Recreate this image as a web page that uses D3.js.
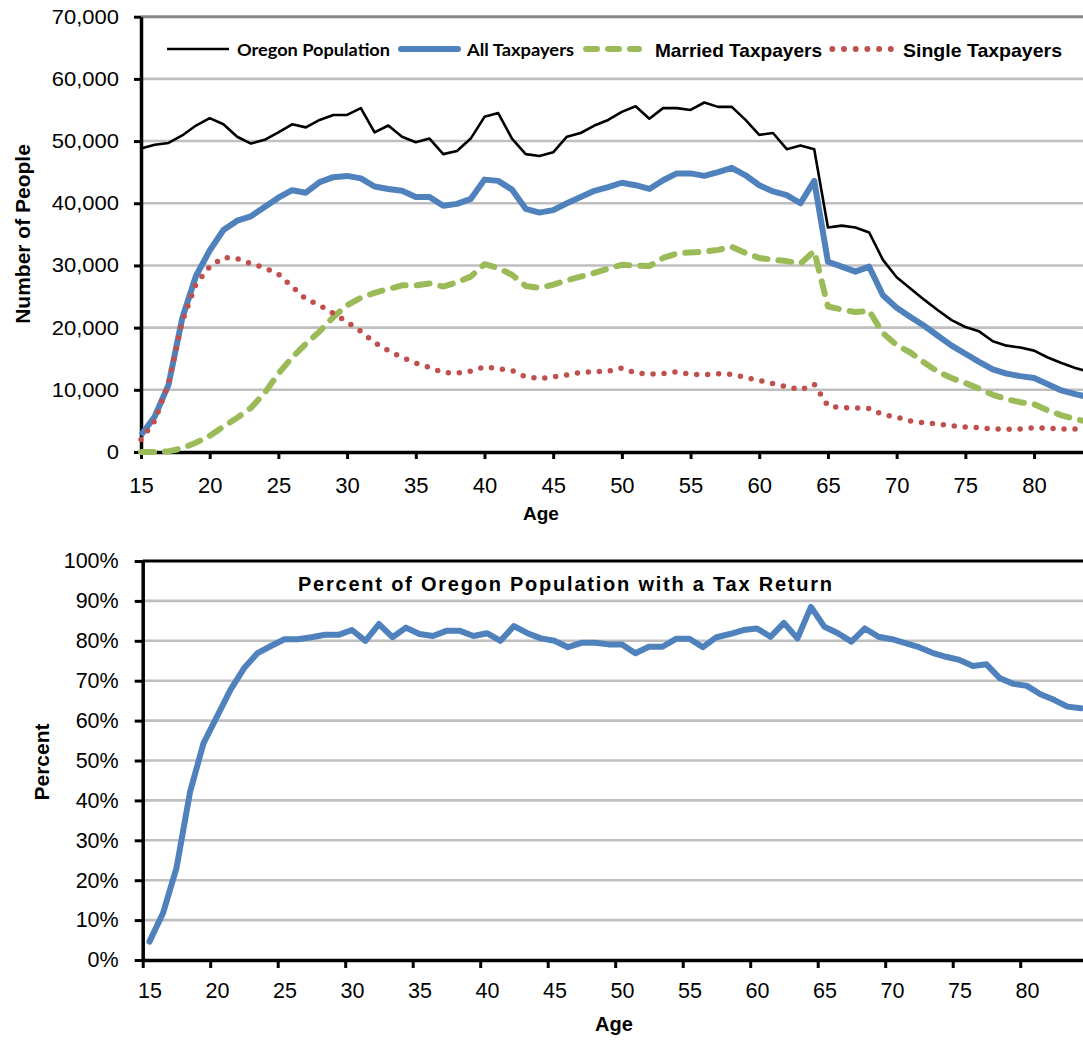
<!DOCTYPE html>
<html><head><meta charset="utf-8">
<script src="https://cdn.jsdelivr.net/npm/d3@7"></script>
<style>
html,body{margin:0;padding:0;background:#fff;}
svg{display:block;}
</style>
</head><body>
<svg id="chart" width="1083" height="1040"></svg>
<script>
// ---------- data ----------
const ages = [15,16,17,18,19,20,21,22,23,24,25,26,27,28,29,30,31,32,33,34,35,36,37,38,39,40,41,42,43,44,45,46,47,48,49,50,51,52,53,54,55,56,57,58,59,60,61,62,63,64,65,66,67,68,69,70,71,72,73,74,75,76,77,78,79,80,81,82,83,84];
const oregonPopulation = [48800,49400,49700,50900,52500,53700,52700,50700,49600,50200,51400,52700,52200,53400,54200,54200,55300,51400,52500,50700,49800,50400,47900,48400,50400,53900,54500,50400,47900,47600,48200,50700,51300,52500,53400,54700,55600,53600,55300,55300,55000,56200,55500,55500,53400,51000,51300,48700,49300,48700,36100,36400,36100,35300,30900,28100,26300,24500,22800,21200,20100,19400,17800,17100,16800,16300,15200,14300,13500,12900];
const allTaxpayers = [2700,5700,10800,21500,28300,32400,35700,37200,37900,39400,40900,42100,41700,43400,44200,44400,44000,42700,42300,42000,41000,41000,39600,39900,40700,43800,43600,42200,39100,38500,38900,40000,41000,42000,42600,43300,42900,42300,43700,44800,44800,44400,45000,45700,44500,42900,41900,41300,40000,43600,30600,29800,29000,29800,25200,23200,21700,20300,18700,17100,15800,14500,13300,12600,12200,11900,10900,9900,9300,8800];
const marriedTaxpayers = [0,0,100,600,1500,2600,4100,5500,7100,9500,12600,15200,17400,19400,21700,23600,24800,25600,26200,26800,26800,27100,26600,27300,28200,30200,29600,28500,26700,26400,26900,27600,28200,28800,29500,30100,30000,29900,31200,31900,32100,32200,32500,33000,32000,31200,30900,30700,30300,32300,23400,22900,22500,22700,19100,17200,16000,14400,12900,11900,11100,10200,9200,8500,8000,7700,6700,5900,5300,4800];
const singleTaxpayers = [2000,5000,11000,21000,27000,29800,31300,31100,30300,29600,28600,26600,24600,23600,22300,20900,19400,17600,16300,15200,14300,13600,12800,12700,13000,13700,13400,13100,12100,11800,12100,12400,12800,12900,13000,13500,12700,12500,12600,12900,12500,12400,12600,12500,12000,11500,11000,10500,10000,10900,7400,7100,7100,7000,6000,5600,5000,4700,4500,4200,4000,3900,3700,3650,3700,3900,3800,3700,3700,3700];
const percentWithReturn = [4.6,11.7,23,42,54.3,61,67.7,73.1,76.9,78.7,80.4,80.4,80.9,81.5,81.5,82.7,80.0,84.2,80.9,83.3,81.7,81.2,82.5,82.5,81.2,81.9,80.0,83.7,81.9,80.6,80.0,78.4,79.5,79.5,79.1,79.1,76.9,78.5,78.5,80.5,80.5,78.4,80.9,81.7,82.7,83.1,81.0,84.5,80.6,88.5,83.5,81.9,79.8,83.1,81.0,80.4,79.4,78.4,77.0,76.0,75.2,73.7,74.1,70.6,69.2,68.7,66.6,65.2,63.5,63.1];
const peopleTicks = [0,10000,20000,30000,40000,50000,60000,70000];
const percentTicks = [0,10,20,30,40,50,60,70,80,90,100];
const ageTickLabels = [15,20,25,30,35,40,45,50,55,60,65,70,75,80];
const ageBoundaryTicks = [14.5,19.5,24.5,29.5,34.5,39.5,44.5,49.5,54.5,59.5,64.5,69.5,74.5,79.5,84.5];
const legendLabels = ["Oregon Population","All Taxpayers","Married Taxpayers","Single Taxpayers"];
const bottomTitle = "Percent of Oregon Population with a Tax Return";

(function draw(){
const svg = d3.select("#chart");
const FONT = "'Liberation Sans', Arial, sans-serif";
const GRID = "#BFBFBF";
const C_BLACK = "#000000", C_BLUE = "#4F81BD", C_GREEN = "#9BBB59", C_RED = "#C0504D";

function stretchText(sel, sx) {
  sel.each(function(){
    const t = d3.select(this);
    const x = +t.attr("x") || 0;
    t.attr("transform", `translate(${x},0) scale(${sx},1) translate(${-x},0)`);
  });
}
function styleAxis(g, size) {
  g.attr("font-family", FONT).attr("font-size", size);
  g.select(".domain").attr("stroke", "#000").attr("stroke-width", 3.5);
  g.selectAll(".tick line").attr("stroke", "#000").attr("stroke-width", 3);
  g.selectAll(".tick text").attr("fill", "#000");
}

// ================= TOP CHART =================
const x1 = d3.scaleLinear().domain([15, 84]).range([141, 1089]);
const y1 = d3.scaleLinear().domain([0, 70000]).range([452, 16.7]);
const topG = svg.append("g");

topG.append("g").selectAll("line").data(peopleTicks.filter(d => d > 0)).join("line")
  .attr("x1", x1(15)).attr("x2", x1(84)).attr("y1", d => y1(d)).attr("y2", d => y1(d))
  .attr("stroke", d => d === 70000 ? "#868686" : GRID).attr("stroke-width", d => d === 70000 ? 3 : 2.6);

const ya1 = topG.append("g").attr("transform", `translate(${x1(15)},0)`)
  .call(d3.axisLeft(y1).tickValues(peopleTicks).tickSize(7).tickSizeOuter(0).tickPadding(15).tickFormat(d3.format(",")));
styleAxis(ya1, 20);
stretchText(ya1.selectAll(".tick text"), 1.1);

const xa1 = topG.append("g").attr("transform", `translate(0,${y1(0)})`)
  .call(d3.axisBottom(x1).tickValues(ageTickLabels).tickSize(7).tickSizeOuter(0).tickPadding(18));
styleAxis(xa1, 22);

const line1 = (vals) => d3.line().x((d, i) => x1(ages[i])).y(d => y1(d))(vals);
topG.append("path").attr("d", line1(oregonPopulation)).attr("fill", "none")
  .attr("stroke", C_BLACK).attr("stroke-width", 2.6).attr("stroke-linejoin", "round");
topG.append("path").attr("d", line1(allTaxpayers)).attr("fill", "none")
  .attr("stroke", C_BLUE).attr("stroke-width", 6).attr("stroke-linejoin", "round");
topG.append("path").attr("d", line1(marriedTaxpayers)).attr("fill", "none")
  .attr("stroke", C_GREEN).attr("stroke-width", 6).attr("stroke-linejoin", "round")
  .attr("stroke-linecap", "round").attr("stroke-dasharray", "13 11");
topG.append("path").attr("d", line1(singleTaxpayers)).attr("fill", "none")
  .attr("stroke", C_RED).attr("stroke-width", 5.5).attr("stroke-linejoin", "round")
  .attr("stroke-linecap", "round").attr("stroke-dasharray", "0 11");

const lg = topG.append("g");
lg.append("line").attr("x1", 167).attr("x2", 229).attr("y1", 49).attr("y2", 49)
  .attr("stroke", C_BLACK).attr("stroke-width", 2.6);
lg.append("text").attr("x", 237).attr("y", 55.5).text(legendLabels[0])
  .attr("font-family", "Lato, 'Open Sans', sans-serif").attr("font-weight", "bold").attr("font-size", 17)
  .attr("textLength", 153).attr("lengthAdjust", "spacingAndGlyphs");
lg.append("line").attr("x1", 401).attr("x2", 458).attr("y1", 49).attr("y2", 49)
  .attr("stroke", C_BLUE).attr("stroke-width", 6).attr("stroke-linecap", "round");
lg.append("text").attr("x", 467).attr("y", 55.5).text(legendLabels[1])
  .attr("font-family", "Lato, 'Open Sans', sans-serif").attr("font-weight", "bold").attr("font-size", 17)
  .attr("textLength", 107).attr("lengthAdjust", "spacingAndGlyphs");
lg.append("line").attr("x1", 586).attr("x2", 639).attr("y1", 49).attr("y2", 49)
  .attr("stroke", C_GREEN).attr("stroke-width", 6).attr("stroke-linecap", "round").attr("stroke-dasharray", "11 11");
lg.append("text").attr("x", 655).attr("y", 56.5).text(legendLabels[2])
  .attr("font-family", FONT).attr("font-weight", "bold").attr("font-size", 18.5)
  .attr("textLength", 167).attr("lengthAdjust", "spacingAndGlyphs");
lg.append("line").attr("x1", 832.3).attr("x2", 891).attr("y1", 49).attr("y2", 49)
  .attr("stroke", C_RED).attr("stroke-width", 6).attr("stroke-linecap", "round").attr("stroke-dasharray", "0 11.7");
lg.append("text").attr("x", 903).attr("y", 56.5).text(legendLabels[3])
  .attr("font-family", FONT).attr("font-weight", "bold").attr("font-size", 18.5)
  .attr("textLength", 159).attr("lengthAdjust", "spacingAndGlyphs");

topG.append("text").attr("transform", "translate(30,234) rotate(-90)").attr("text-anchor", "middle")
  .attr("font-family", FONT).attr("font-weight", "bold").attr("font-size", 21).text("Number of People");
topG.append("text").attr("x", 541).attr("y", 520).attr("text-anchor", "middle")
  .attr("font-family", FONT).attr("font-weight", "bold").attr("font-size", 19).text("Age");

// ================= BOTTOM CHART =================
const x2 = d3.scaleLinear().domain([14.5, 84.5]).range([142.7, 1087.7]);
const y2 = d3.scaleLinear().domain([0, 100]).range([960, 561]);
const bot = svg.append("g");

bot.append("g").selectAll("line").data(percentTicks.filter(d => d > 0)).join("line")
  .attr("x1", x2(14.5)).attr("x2", x2(84.5)).attr("y1", d => y2(d)).attr("y2", d => y2(d))
  .attr("stroke", d => d === 100 ? "#000" : GRID).attr("stroke-width", d => d === 100 ? 3 : 2.6);

const ya2 = bot.append("g").attr("transform", `translate(${x2(14.5)},0)`)
  .call(d3.axisLeft(y2).tickValues(percentTicks).tickSize(8).tickSizeOuter(0).tickPadding(16).tickFormat(d => d + "%"));
styleAxis(ya2, 21.5);

const xa2 = bot.append("g").attr("transform", `translate(0,${y2(0)})`)
  .call(d3.axisBottom(x2).tickValues(ageBoundaryTicks).tickSize(8).tickSizeOuter(0).tickFormat(""));
styleAxis(xa2, 21.5);
const xl2 = bot.append("g").attr("transform", `translate(0,${y2(0)})`)
  .call(d3.axisBottom(x2).tickValues(ageTickLabels).tickSize(0).tickPadding(23));
xl2.select(".domain").remove();
xl2.attr("font-family", FONT).attr("font-size", 21.5);
xl2.selectAll(".tick text").attr("fill", "#000");

bot.append("path").attr("d", d3.line().x((d, i) => x2(ages[i])).y(d => y2(d))(percentWithReturn))
  .attr("fill", "none").attr("stroke", C_BLUE).attr("stroke-width", 6).attr("stroke-linejoin", "round").attr("stroke-linecap", "round");

bot.append("text").attr("x", 565).attr("y", 591).attr("text-anchor", "middle")
  .attr("font-family", FONT).attr("font-weight", "bold").attr("font-size", 20)
  .attr("textLength", 534).attr("lengthAdjust", "spacing").text(bottomTitle);

bot.append("text").attr("transform", "translate(49,762) rotate(-90)").attr("text-anchor", "middle")
  .attr("font-family", FONT).attr("font-weight", "bold").attr("font-size", 21).text("Percent");
bot.append("text").attr("x", 614).attr("y", 1031).attr("text-anchor", "middle")
  .attr("font-family", FONT).attr("font-weight", "bold").attr("font-size", 20).text("Age");
})();
</script>
</body></html>
